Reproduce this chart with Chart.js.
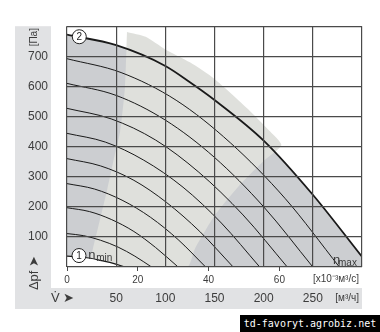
<!DOCTYPE html>
<html>
<head>
<meta charset="utf-8">
<script src="https://cdn.jsdelivr.net/npm/chart.js@4.4.0/dist/chart.umd.min.js"></script>
<style>
  html, body { margin: 0; padding: 0; background: #fff; }
  #wrap { position: relative; width: 380px; height: 332px; }
  #mark {
    position: absolute; left: 240px; top: 315px; width: 140px; height: 17px;
    background: #000; color: #fff; font: 10px "DejaVu Sans Mono", monospace;
    line-height: 17px; text-align: center;
  }
</style>
</head>
<body>
<div id="wrap">
  <canvas id="fan" width="380" height="332"></canvas>
  <div id="mark">td-favoryt.agrobiz.net</div>
</div>
<script>
// расход в м³/ч, давление в Па
const ticksLs = [0, 20, 40, 60];               // x10^-3 м³/с
const ticksM3h = [50, 100, 150, 200, 250];     // м³/ч
const ticksPa = [100, 200, 300, 400, 500, 600, 700];

// характеристики [м³/ч, Па], сверху вниз: 2 = n max ... 1 = n min
const curve2 = [[0, 772], [50, 737], [100, 668], [125, 614], [150, 555], [200, 420], [250, 240], [300, 34]];
const curveB = [[0, 692], [55, 646], [111, 554], [166, 413], [222, 227], [277, 0]];
const curveC = [[0, 610], [50, 570], [100, 488], [150, 364], [200, 200], [250, 0]];
const curveD = [[0, 527], [45, 492], [90, 422], [134, 315], [179, 173], [224, 0]];
const curveE = [[0, 444], [39, 415], [78, 355], [118, 265], [157, 146], [196, 0]];
const curveF = [[0, 360], [34, 336], [68, 288], [101, 215], [135, 118], [169, 0]];
const curveG = [[0, 277], [28, 259], [56, 222], [85, 165], [113, 91], [141, 0]];
const curveH = [[0, 197], [23, 184], [45, 158], [68, 118], [90, 65], [113, 0]];
const curveI = [[0, 111], [17, 104], [34, 89], [52, 66], [69, 36], [86, 0]];
const curve1 = [[0, 36], [12, 34], [24, 29], [35, 21], [47, 12], [59, 0]];

// светлая полоса (зона оптимального КПД)
const bandEdge = [[61, 781], [80, 765], [100, 723], [125, 680], [150, 625], [184, 525], [205, 455], [218, 405],
                  [200, 352], [175, 270], [150, 170], [130, 60], [122, 0], [22, 0], [26, 56], [33, 150],
                  [41, 259], [47, 350], [54, 450], [59, 600], [61, 781]];

const pts = a => a.map(([x, y]) => ({ x: x, y: y }));

var ctx = document.getElementById('fan').getContext('2d');

var txt = '#3c3c3c';
var fnt = '"Liberation Sans", Arial, sans-serif';

function lineSet(arr, w) {
    return {
        data: pts(arr), showLine: true, fill: false,
        borderColor: '#1a1a1a', borderWidth: w,
        pointRadius: 0, cubicInterpolationMode: 'monotone', order: 1
    };
}

var decor = {
    id: 'decor',
    beforeDraw: function (chart) {
        var c = chart.ctx, a = chart.chartArea, y = chart.scales.y, x = chart.scales.x;
        c.save();
        c.fillStyle = '#e1e2e4';
        c.fillRect(y.left, a.top, a.left - 16 - y.left, x.bottom - a.top);
        c.fillRect(y.left, x.top, a.right - y.left, x.bottom - x.top);
        c.restore();
    },
    afterDraw: function (chart) {
        var c = chart.ctx, a = chart.chartArea, sx = chart.scales.x, sy = chart.scales.y, s2 = chart.scales.x2;
        c.save();
        // номера кривых
        [[12.5, 765, '2'], [12.2, 38, '1']].forEach(function (m) {
            var px = sx.getPixelForValue(m[0]), py = sy.getPixelForValue(m[1]);
            c.beginPath();
            c.arc(px, py, 7, 0, Math.PI * 2);
            c.fillStyle = '#fff';
            c.fill();
            c.lineWidth = 1;
            c.strokeStyle = '#222';
            c.stroke();
            c.fillStyle = '#222';
            c.font = '10px ' + fnt;
            c.textAlign = 'center';
            c.textBaseline = 'middle';
            c.fillText(m[2], px, py + 0.5);
        });
        c.fillStyle = txt;
        c.textBaseline = 'alphabetic';
        c.textAlign = 'left';
        var nx = sx.getPixelForValue(21.5), ny = sy.getPixelForValue(36);
        c.font = '13px ' + fnt;
        c.fillText('n', nx, ny + 3);
        c.font = '10px ' + fnt;
        c.fillText('min', nx + 8, ny + 5);
        c.font = '13px ' + fnt;
        c.fillText('n', a.right - 29, a.bottom - 3);
        c.font = '10px ' + fnt;
        c.fillText('max', a.right - 24, a.bottom - 1);

        // подписи единиц
        c.textAlign = 'right';
        c.textBaseline = 'middle';
        c.font = '10px ' + fnt;
        c.fillText('[x10\u207B\u00B3м\u00B3/с]', a.right - 3, (s2.top + s2.bottom) / 2 + 2);
        c.fillText('[м\u00B3/ч]', a.right - 3, (sx.top + sx.bottom) / 2);
        c.textAlign = 'left';
        c.font = '13px ' + fnt;
        c.fillText('V\u0307 \u27A4', sy.left + 36, (sx.top + sx.bottom) / 2);

        // ось давления
        var bx = (sy.left + a.left - 16) / 2 + 1;
        c.translate(bx, 0);
        c.rotate(-Math.PI / 2);
        c.textAlign = 'center';
        c.font = '10px ' + fnt;
        c.fillText('[Па]', -(a.top + 11), 0);
        c.font = '13px ' + fnt;
        c.fillText('\u0394pf \u27A4', -(a.bottom + 6), 0);
        c.restore();
    }
};

var chart = new Chart(ctx, {
    type: 'scatter',
    data: {
        datasets: [
            lineSet(curve2, 1.8),
            lineSet(curveB, 1), lineSet(curveC, 1), lineSet(curveD, 1), lineSet(curveE, 1),
            lineSet(curveF, 1), lineSet(curveG, 1), lineSet(curveH, 1), lineSet(curveI, 1),
            lineSet(curve1, 1.2),
            { // белая область под n min
                data: pts(curve1), showLine: true, fill: 'origin', backgroundColor: '#ffffff',
                borderWidth: 0, pointRadius: 0, cubicInterpolationMode: 'monotone', order: 3
            },
            { // светлая полоса
                data: pts(bandEdge), showLine: true, fill: 'shape', backgroundColor: '#dfe0dc',
                borderWidth: 0, pointRadius: 0, tension: 0.2, order: 4
            },
            { // серая рабочая область
                data: pts(curve2), showLine: true, fill: 'origin', backgroundColor: '#ccced1',
                borderWidth: 0, pointRadius: 0, cubicInterpolationMode: 'monotone', order: 5
            }
        ]
    },
    options: {
        responsive: false,
        animation: false,
        devicePixelRatio: 1,
        layout: { padding: { left: 15, right: 18, top: 12, bottom: 23 } },
        plugins: { legend: { display: false }, tooltip: { enabled: false } },
        scales: {
            x: {
                type: 'linear', position: 'bottom', min: 0, max: 300, weight: 1,
                border: { display: false },
                grid: { color: '#4a4a4a', lineWidth: 1.2, drawTicks: false, z: 1 },
                ticks: {
                    stepSize: 50, color: txt, padding: 3, font: { family: fnt, size: 12 },
                    callback: function (v) { return ticksM3h.includes(v) ? v : ''; }
                },
                afterFit: function (s) { s.height = 21; }
            },
            x2: {
                type: 'linear', position: 'bottom', min: 0, max: 300 / 3.6, weight: 0,
                border: { display: false },
                grid: { drawOnChartArea: false, drawTicks: true, tickLength: 4, color: '#4a4a4a' },
                ticks: { color: txt, padding: 3, font: { family: fnt, size: 10 } },
                afterBuildTicks: function (s) { s.ticks = ticksLs.map(function (v) { return { value: v }; }); },
                afterFit: function (s) { s.height = 21; }
            },
            y: {
                min: 0, max: 800,
                border: { display: false },
                grid: { color: '#4a4a4a', lineWidth: 1.2, drawTicks: false, z: 1 },
                ticks: {
                    stepSize: 100, color: txt, padding: 19, font: { family: fnt, size: 12 },
                    callback: function (v) { return ticksPa.includes(v) ? v : ''; }
                },
                afterFit: function (s) { s.width = 52; }
            }
        }
    },
    plugins: [decor]
});
</script>
</body>
</html>
